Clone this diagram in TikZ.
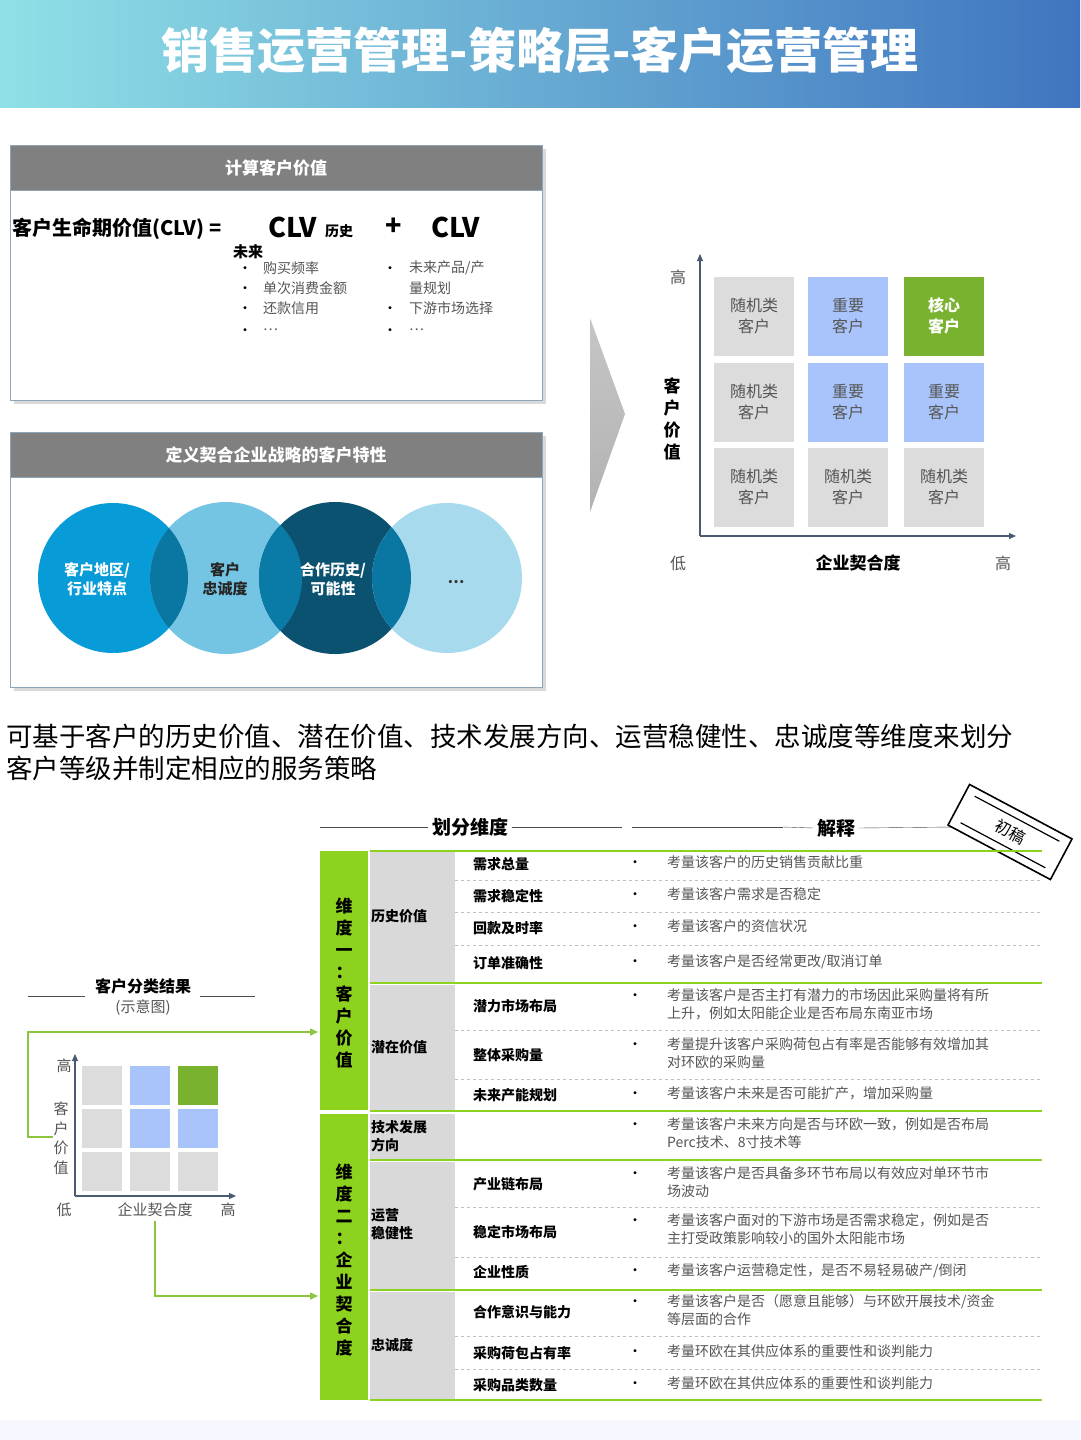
\documentclass[tikz,border=0pt]{standalone}
\usepackage{fontspec}
\setmainfont{Noto Sans CJK SC}
\usetikzlibrary{arrows.meta}
\definecolor{hdgray}{HTML}{808080}
\definecolor{boxline}{HTML}{8FA6B8}
\definecolor{cellgray}{HTML}{DCDCDC}
\definecolor{cellblue}{HTML}{A9C4FA}
\definecolor{cellgreen}{HTML}{78B22E}
\definecolor{lime}{HTML}{8CD21E}
\definecolor{lgreen}{HTML}{8CC63F}
\definecolor{colgray}{HTML}{D9D9D9}
\definecolor{txtgray}{HTML}{555555}
\definecolor{axis}{HTML}{4A5A70}
\definecolor{cA}{HTML}{079BD8}
\definecolor{cB}{HTML}{74C4E4}
\definecolor{cC}{HTML}{0B5170}
\definecolor{cD}{HTML}{A8DAEE}
\definecolor{cX}{HTML}{0A77A2}
\definecolor{tl}{HTML}{8FE0E6}
\definecolor{tr}{HTML}{3F75C0}
\newcommand{\fs}[1]{\fontsize{#1}{\dimexpr#1pt*13/10\relax}\selectfont}
\tikzset{
  x=1pt,y=-1pt,
  secbox/.style={draw=boxline,line width=1pt,fill=white},
  sechead/.style={fill=hdgray,draw=boxline,line width=1pt},
  headtxt/.style={text=white,font=\fs{17}\bfseries},
  cell/.style={minimum width=80,minimum height=79,inner sep=0,align=center,font=\fs{16},text=txtgray},
  scell/.style={minimum width=40,minimum height=39,inner sep=0},
  axarr/.style={draw=axis,line width=1.2pt,-{Triangle[length=7pt,width=6pt]}},
  sub/.style={anchor=west,font=\fs{14}\bfseries,inner sep=0},
  desc/.style={anchor=west,font=\fs{14},text=txtgray,inner sep=0,align=left},
  dot/.style={font=\fs{14},inner sep=0},
  gsep/.style={draw=lime,line width=2pt},
  dsep/.style={draw=gray!50,dashed,line width=0.6pt},
  garr/.style={draw=lgreen,line width=1.5pt,-{Triangle[length=8pt,width=7pt]}},
  vtxt/.style={font=\fs{17}\bfseries,align=center,inner sep=0},
}
\begin{document}
\begin{tikzpicture}
\useasboundingbox (0,0) rectangle (1080,1440);
\fill[white] (0,0) rectangle (1080,1440);
\fill[blue!3] (0,1420) rectangle (1080,1440);
% header
\shade[left color=tl,right color=tr] (0,0) rectangle (1080,107);
\node[text=white,font=\fs{48}\bfseries] (title) at (540,50) {销售运营管理-策略层-客户运营管理};

% box 1
\fill[black!15] (14,149) rectangle (546,404);
\draw[secbox] (10,145) rectangle (542,400);
\draw[sechead] (10,145) rectangle (542,190);
\node[headtxt] (h1) at (276,168) {计算客户价值};
\node[anchor=west,font=\fs{20}\bfseries,inner sep=0] (clvl) at (12,229) {客户生命期价值(CLV) =};
\node[anchor=west,font=\fs{27}\bfseries,inner sep=0] (clvh) at (268,227) {CLV};
\node[anchor=west,font=\fs{14}\bfseries,inner sep=0] (hist) at (325,231) {历史};
\node[font=\fs{27}\bfseries,inner sep=0] (plus) at (394,227) {+};
\node[anchor=west,font=\fs{27}\bfseries,inner sep=0] (clvf) at (431,227) {CLV};
\node[anchor=west,font=\fs{15}\bfseries,inner sep=0] (fut) at (233,252) {未来};
\foreach \t/\y [count=\i] in {购买频率/268,单次消费金额/288,还款信用/308,…/330}{
  \node[dot] (lb\i) at (245,\y+2) {•};
  \node[desc] (lt\i) at (263,\y) {\t};
}
\foreach \t/\y [count=\i] in {{未来产品/产}/268,量规划/288,下游市场选择/308,…/330}{
  \node[desc] (rt\i) at (409,\y) {\t};
}
\node[dot] (rb1) at (390,270) {•};
\node[dot] (rb2) at (390,310) {•};
\node[dot] (rb3) at (390,332) {•};

% box 2
\fill[black!15] (14,436) rectangle (546,691);
\draw[secbox] (10,432) rectangle (542,687);
\draw[sechead] (10,432) rectangle (542,477);
\node[headtxt] (h2) at (276,455) {定义契合企业战略的客户特性};
\fill[cA] (113,578) circle (75);
\fill[cB] (226,578) circle (76);
\fill[cC] (335,578) circle (76);
\fill[cD] (447,578) circle (75);
\begin{scope}\clip (113,578) circle (75); \fill[cX] (226,578) circle (76);\end{scope}
\begin{scope}\clip (226,578) circle (76); \fill[cX!90!cA] (335,578) circle (76);\end{scope}
\begin{scope}\clip (335,578) circle (76); \fill[cX] (447,578) circle (75);\end{scope}
\node[text=white,font=\fs{15}\bfseries,align=center] (k1) at (97,579) {客户地区/\\行业特点};
\node[text=black!85,font=\fs{15}\bfseries,align=center] (k2) at (225,579) {客户\\忠诚度};
\node[text=white,font=\fs{15}\bfseries,align=center] (k3) at (333,579) {合作历史/\\可能性};
\node[text=black!80,font=\fs{15}\bfseries] (k4) at (456,582) {…};

% chevron
\shade[top color=gray!45,bottom color=gray!60] (590,318) -- (625,414) -- (590,512) -- cycle;

% matrix
\draw[axarr] (700,536) -- (700,254);
\draw[axarr] (700,536) -- (1016,536);
\node[cell,fill=cellgray] (m11) at (754,316) {随机类\\客户};
\node[cell,fill=cellblue] (m12) at (848,316) {重要\\客户};
\node[cell,fill=cellgreen,text=white,font=\fs{16}\bfseries] (m13) at (944,316) {核心\\客户};
\node[cell,fill=cellgray] (m21) at (754,402) {随机类\\客户};
\node[cell,fill=cellblue] (m22) at (848,402) {重要\\客户};
\node[cell,fill=cellblue] (m23) at (944,402) {重要\\客户};
\node[cell,fill=cellgray] (m31) at (754,487) {随机类\\客户};
\node[cell,fill=cellgray] (m32) at (848,487) {随机类\\客户};
\node[cell,fill=cellgray] (m33) at (944,487) {随机类\\客户};
\node[font=\fs{16},text=txtgray] (yh) at (678,277) {高};
\node[font=\fs{17}\bfseries,align=center,inner sep=0] (yl) at (672,419) {客\\户\\价\\值};
\node[font=\fs{16},text=txtgray] (xl) at (678,563) {低};
\node[font=\fs{17}\bfseries] (xlab) at (858,563) {企业契合度};
\node[font=\fs{16},text=txtgray] (xh) at (1003,563) {高};

% paragraph
\node[anchor=west,font=\fs{26.5},inner sep=0] (p1) at (6,736) {可基于客户的历史价值、潜在价值、技术发展方向、运营稳健性、忠诚度等维度来划分};
\node[anchor=west,font=\fs{26.5},inner sep=0] (p2) at (6,768) {客户等级并制定相应的服务策略};

% table header
\node[font=\fs{19}\bfseries] (th1) at (470,827) {划分维度};
\node[font=\fs{19}\bfseries] (th2) at (836,828) {解释};
\draw[black!70] (320,827) -- (th1.west) (th1.east) -- (622,827);
\draw[black!70] (632,827) -- (783,827);
\draw[black!70] (th2.west) -- (783,827) (th2.east) -- (955,827);
\begin{scope}[shift={(1010,832)},rotate=-28]
  \fill[white] (-58,-23) rectangle (58,23);
  \draw[line width=1.6pt] (-58,-23) rectangle (58,23);
  \draw[line width=1.2pt] (-48,-15) -- (48,-15) (-48,15) -- (48,15);
  \node[font=\fs{16},rotate=-28,inner sep=0] (stamp) at (0,0) {初稿};
\end{scope}

% columns
\fill[lime] (320,851) rectangle (368,1110);
\fill[lime] (320,1114) rectangle (368,1400);
\fill[colgray] (370,851) rectangle (455,1400);
\foreach \y in {983,1112,1160,1290}{\fill[white] (370,\y-1.5) rectangle (455,\y+1.5);}
\node[vtxt] (d1) at (344,983) {维\\度\\一\\：\\客\\户\\价\\值};
\node[vtxt] (d2) at (344,1260) {维\\度\\二\\：\\企\\业\\契\\合\\度};
\foreach \y in {851,983,1111,1160,1290,1400}{\draw[gsep] (370,\y) -- (1042,\y);}
\foreach \y in {880,912,945,1030,1079,1207,1257,1336,1369}{\draw[dsep] (455,\y) -- (1042,\y);}
\node[sub,align=left] (c1) at (371,916) {历史价值};
\node[sub,align=left] (c2) at (371,1047) {潜在价值};
\node[sub,align=left] (c3) at (371,1136) {技术发展\\方向};
\node[sub,align=left] (c4) at (371,1224) {运营\\稳健性};
\node[sub,align=left] (c5) at (371,1345) {忠诚度};
\foreach \s/\d/\y/\by [count=\i] in {
 需求总量/考量该客户的历史销售贡献比重/864/864,
 需求稳定性/考量该客户需求是否稳定/896/896,
 回款及时率/考量该客户的资信状况/928/928,
 订单准确性/{考量该客户是否经常更改/取消订单}/963/963,
 潜力市场布局/{考量该客户是否主打有潜力的市场因此采购量将有所\\上升，例如太阳能企业是否布局东南亚市场}/1006/997,
 整体采购量/{考量提升该客户采购荷包占有率是否能够有效增加其\\对环欧的采购量}/1055/1046,
 未来产能规划/考量该客户未来是否可能扩产，增加采购量/1095/1095,
 {}/{考量该客户未来方向是否与环欧一致，例如是否布局\\Perc技术、8寸技术等}/1135/1126,
 产业链布局/{考量该客户是否具备多环节布局以有效应对单环节市\\场波动}/1184/1175,
 稳定市场布局/{考量该客户面对的下游市场是否需求稳定，例如是否\\主打受政策影响较小的国外太阳能市场}/1232/1222,
 企业性质/{考量该客户运营稳定性，是否不易轻易破产/倒闭}/1272/1272,
 合作意识与能力/{考量该客户是否（愿意且能够）与环欧开展技术/资金\\等层面的合作}/1312/1303,
 采购荷包占有率/考量环欧在其供应体系的重要性和谈判能力/1353/1353,
 采购品类数量/考量环欧在其供应体系的重要性和谈判能力/1385/1385}{
  \node[sub] (s\i) at (473,\y) {\s};
  \node[dot] (b\i) at (635,\by) {•};
  \node[desc,anchor=north west] (e\i) at (667,\by-9) {\d};
}

% small result chart
\node[font=\fs{16}\bfseries] (rt) at (143,986) {客户分类结果};
\draw[black!70] (28,996) -- (85,996) (200,996) -- (255,996);
\node[font=\fs{15},text=txtgray] (rs) at (143,1008) {(示意图)};
\draw[axarr] (75,1196) -- (75,1054);
\draw[axarr] (75,1196) -- (236,1196);
\node[scell,fill=cellgray] (q11) at (102,1085) {};
\node[scell,fill=cellblue] (q12) at (150,1085) {};
\node[scell,fill=cellgreen] (q13) at (198,1085) {};
\node[scell,fill=cellgray] (q21) at (102,1128) {};
\node[scell,fill=cellblue] (q22) at (150,1128) {};
\node[scell,fill=cellblue] (q23) at (198,1128) {};
\node[scell,fill=cellgray] (q31) at (102,1171) {};
\node[scell,fill=cellgray] (q32) at (150,1171) {};
\node[scell,fill=cellgray] (q33) at (198,1171) {};
\node[font=\fs{15},text=txtgray] (sh) at (64,1066) {高};
\node[font=\fs{15},text=txtgray,align=center,inner sep=0] (sy) at (61,1138) {客\\户\\价\\值};
\node[font=\fs{15},text=txtgray] (sl) at (64,1210) {低};
\node[font=\fs{15},text=txtgray] (sx) at (155,1210) {企业契合度};
\node[font=\fs{15},text=txtgray] (sh2) at (228,1210) {高};
\coordinate (ta) at (318,1032);
\coordinate (tb) at (318,1296);
\draw[garr] (sy.west |- 0,1137) -| (28,1032) -- (ta);
\draw[garr] (sx.south) |- (tb);
\end{tikzpicture}
\end{document}
